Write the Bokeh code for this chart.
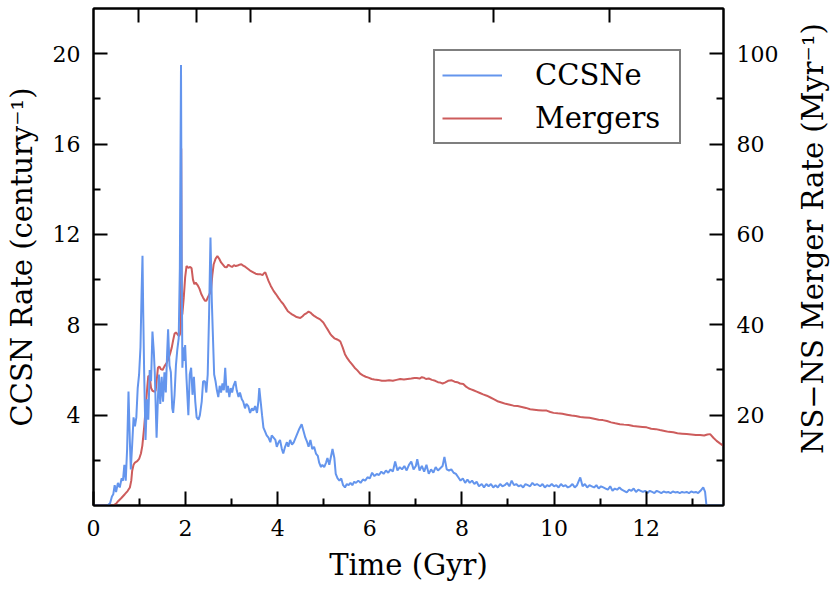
from bokeh.plotting import figure
from bokeh.layouts import row
from bokeh.models import Range1d, LinearAxis, FixedTicker, Legend, LegendItem
from bokeh.embed import file_html
from bokeh.resources import INLINE

# ---------------- data ----------------
ccsn_time = [0.00, 0.30, 0.36, 0.40, 0.43, 0.46, 0.49, 0.53, 0.57, 0.61, 0.64, 0.67, 0.70, 0.73, 0.76,
             0.79, 0.81, 0.84, 0.87, 0.90, 0.93, 0.96, 0.99, 1.02, 1.045, 1.064, 1.08, 1.10, 1.13, 1.16,
             1.19, 1.22, 1.25, 1.28, 1.31, 1.33, 1.37, 1.40, 1.42, 1.45, 1.48, 1.51, 1.54, 1.57, 1.60,
             1.62, 1.65, 1.68, 1.71, 1.73, 1.76, 1.79, 1.82, 1.85, 1.875, 1.90, 1.915, 1.93, 1.95, 1.97,
             1.99, 2.02, 2.06, 2.09, 2.12, 2.15, 2.18, 2.21, 2.24, 2.28, 2.31, 2.35, 2.38, 2.42, 2.45,
             2.48, 2.51, 2.54, 2.57, 2.59, 2.62, 2.65, 2.68, 2.71, 2.74, 2.77, 2.80, 2.83, 2.86, 2.89,
             2.92, 2.95, 2.98, 3.01, 3.04, 3.08, 3.11, 3.15, 3.18, 3.22, 3.25, 3.29, 3.32, 3.36, 3.40,
             3.44, 3.47, 3.51, 3.55, 3.58, 3.60, 3.63, 3.66, 3.69, 3.72, 3.76, 3.80, 3.84, 3.87, 3.91,
             3.95, 3.98, 4.02, 4.05, 4.09, 4.12, 4.16, 4.20, 4.23, 4.27, 4.31, 4.35, 4.39, 4.43, 4.47,
             4.52, 4.56, 4.60, 4.64, 4.67, 4.71, 4.75, 4.79, 4.83, 4.87, 4.90, 4.94, 4.97, 5.01, 5.05,
             5.08, 5.12, 5.15, 5.19, 5.23, 5.26, 5.30, 5.34, 5.38, 5.42, 5.46, 5.50, 5.54, 5.58, 5.62,
             5.66, 5.70, 5.75, 5.80, 5.85, 5.90, 5.95, 6.00, 6.05, 6.10, 6.15, 6.20, 6.25, 6.30, 6.35,
             6.40, 6.45, 6.50, 6.55, 6.60, 6.65, 6.70, 6.75, 6.80, 6.85, 6.90, 6.95, 7.00, 7.03, 7.08,
             7.13, 7.18, 7.23, 7.28, 7.33, 7.38, 7.43, 7.48, 7.53, 7.58, 7.62, 7.67, 7.72, 7.77, 7.82,
             7.87, 7.92, 7.97, 8.02, 8.07, 8.12, 8.17, 8.22, 8.27, 8.32, 8.37, 8.43, 8.48, 8.53, 8.58,
             8.63, 8.68, 8.73, 8.78, 8.83, 8.88, 8.93, 8.98, 9.03, 9.08, 9.13, 9.18, 9.23, 9.28, 9.33,
             9.38, 9.43, 9.48, 9.53, 9.58, 9.63, 9.70, 9.75, 9.80, 9.85, 9.90, 9.95, 10.00, 10.05, 10.10,
             10.15, 10.20, 10.25, 10.30, 10.35, 10.40, 10.45, 10.50, 10.57, 10.62, 10.67, 10.72, 10.77,
             10.82, 10.87, 10.92, 10.97, 11.02, 11.07, 11.12, 11.17, 11.22, 11.27, 11.32, 11.37, 11.42,
             11.47, 11.52, 11.58, 11.63, 11.68, 11.73, 11.78, 11.83, 11.88, 11.93, 11.98, 12.03, 12.08,
             12.13, 12.18, 12.23, 12.28, 12.33, 12.38, 12.43, 12.48, 12.53, 12.58, 12.63, 12.68, 12.73,
             12.78, 12.83, 12.88, 12.93, 12.98, 13.03, 13.08, 13.13, 13.18, 13.24, 13.28, 13.31, 13.70]
ccsn_rate = [0.0, 0.0, 0.1, 0.4, 0.5, 0.9, 0.6, 1.0, 0.8, 1.2, 1.1, 1.8, 1.1, 2.5, 5.05,
             2.8, 1.6, 2.7, 3.9, 3.5, 3.9, 5.2, 5.8, 7.0, 9.5, 11.05, 8.5, 5.9, 2.9, 4.7,
             3.8, 6.0, 5.5, 7.7, 6.8, 5.9, 3.0, 4.8, 5.8, 4.5, 5.7, 4.6, 5.9, 5.0, 6.8,
             7.8, 6.2, 5.9, 4.3, 4.1, 4.9, 6.2, 6.9, 7.4, 10.5, 19.5, 11.0, 6.1, 7.0, 6.4,
             7.1, 5.6, 4.0, 5.8, 6.1, 4.9, 5.7, 4.6, 3.9, 3.8, 4.0, 4.6, 5.5, 5.5, 5.0,
             5.8, 8.5, 11.86, 9.0, 7.7, 5.8, 5.5, 5.1, 4.8, 5.3, 5.0, 5.4, 5.1, 6.1, 5.0,
             5.3, 4.8, 5.2, 5.0, 5.3, 5.5, 5.1, 4.8, 5.0, 4.7, 4.6, 4.3, 4.5, 4.4, 4.1,
             4.3, 4.2, 4.4, 4.1, 4.6, 5.2, 4.6, 4.0, 3.45, 3.3, 3.1, 3.0, 2.8, 3.1, 3.0,
             2.9, 2.6, 2.8, 2.9, 2.5, 2.3, 2.6, 2.8, 2.6, 2.9, 2.7, 2.8, 3.0, 3.2, 3.4,
             3.6, 3.3, 3.0, 2.8, 2.6, 2.9, 2.5, 2.6, 2.3, 2.2, 1.9, 1.7, 1.8, 1.7, 1.9,
             2.1, 1.8, 2.1, 2.5, 2.1, 1.4, 1.2, 1.1, 1.2, 0.9, 0.8, 0.95, 0.9, 1.0, 0.9,
             1.05, 1.0, 1.1, 1.0, 1.15, 1.1, 1.25, 1.2, 1.45, 1.3, 1.4, 1.35, 1.5, 1.4, 1.55,
             1.45, 1.6, 1.5, 1.95, 1.55, 1.7, 1.6, 1.75, 1.55, 1.8, 1.95, 1.6, 1.75, 2.05, 1.55,
             1.75, 1.5, 1.8, 1.4, 1.6, 1.45, 1.7, 1.55, 1.65, 1.75, 2.15, 1.6, 1.55, 1.6, 1.45,
             1.4, 1.25, 1.1, 1.2, 1.0, 1.15, 1.0, 1.1, 0.95, 1.05, 0.85, 0.95, 0.8, 0.95, 0.85,
             0.95, 0.8, 0.9, 0.8, 0.95, 0.85, 0.9, 1.0, 0.85, 1.1, 0.9, 0.95, 0.85, 0.9, 0.8,
             0.95, 0.9, 0.85, 1.0, 0.9, 0.95, 0.85, 0.95, 0.8, 0.9, 0.85, 0.95, 0.85, 0.9, 0.8,
             0.95, 0.85, 0.9, 0.8, 0.85, 0.95, 0.8, 0.9, 1.24, 0.85, 0.95, 0.8, 0.9,
             0.85, 0.8, 0.9, 0.75, 0.85, 0.8, 0.75, 0.7, 0.85, 0.65, 0.75, 0.7, 0.8,
             0.7, 0.65, 0.58, 0.7, 0.65, 0.75, 0.6, 0.7, 0.65, 0.6, 0.65, 0.55, 0.65,
             0.6, 0.55, 0.65, 0.6, 0.55, 0.62, 0.58, 0.6, 0.55, 0.62, 0.58, 0.6, 0.55,
             0.6, 0.57, 0.6, 0.55, 0.62, 0.58, 0.6, 0.55, 0.65, 0.8, 0.6, 0.0, 0.0]

merger_time = [0.00, 0.43, 0.50, 0.54, 0.60, 0.68, 0.74, 0.79, 0.82, 0.84, 0.87, 0.90, 0.95, 0.99, 1.03,
               1.06, 1.10, 1.14, 1.17, 1.19, 1.22, 1.25, 1.28, 1.32, 1.35, 1.38, 1.40, 1.43, 1.46, 1.50,
               1.54, 1.59, 1.62, 1.66, 1.70, 1.73, 1.76, 1.79, 1.83, 1.86, 1.88, 1.895, 1.905, 1.915, 1.93,
               1.96, 1.99, 2.02, 2.06, 2.10, 2.13, 2.16, 2.19, 2.22, 2.26, 2.30, 2.34, 2.38, 2.42, 2.45,
               2.48, 2.52, 2.55, 2.58, 2.61, 2.65, 2.69, 2.73, 2.77, 2.81, 2.85, 2.89, 2.93, 2.97, 3.01,
               3.05, 3.09, 3.13, 3.17, 3.21, 3.25, 3.30, 3.35, 3.40, 3.47, 3.52, 3.57, 3.62, 3.67, 3.70,
               3.73, 3.76, 3.80, 3.85, 3.91, 3.96, 4.02, 4.07, 4.12, 4.17, 4.22, 4.27, 4.31, 4.36, 4.41,
               4.45, 4.49, 4.54, 4.58, 4.63, 4.67, 4.71, 4.75, 4.80, 4.85, 4.92, 4.99, 5.05, 5.10, 5.14,
               5.18, 5.23, 5.28, 5.32, 5.36, 5.41, 5.46, 5.51, 5.56, 5.61, 5.67, 5.73, 5.79, 5.85, 5.91,
               5.97, 6.04, 6.10, 6.18, 6.26, 6.34, 6.42, 6.50, 6.58, 6.66, 6.74, 6.82, 6.90, 6.97, 7.02,
               7.08, 7.13, 7.17, 7.22, 7.28, 7.35, 7.42, 7.48, 7.53, 7.58, 7.63, 7.70, 7.78, 7.84, 7.90,
               7.96, 8.03, 8.09, 8.15, 8.20, 8.25, 8.32, 8.39, 8.46, 8.54, 8.62, 8.70, 8.79, 8.86, 8.95,
               9.04, 9.12, 9.21, 9.30, 9.39, 9.48, 9.57, 9.66, 9.75, 9.84, 9.92, 9.99, 10.08, 10.18, 10.28,
               10.38, 10.47, 10.57, 10.67, 10.77, 10.87, 10.97, 11.06, 11.15, 11.24, 11.33, 11.43, 11.52,
               11.62, 11.72, 11.82, 11.92, 12.01, 12.11, 12.21, 12.30, 12.40, 12.49, 12.59, 12.68, 12.78,
               12.88, 12.98, 13.08, 13.17, 13.26, 13.33, 13.39, 13.46, 13.53, 13.61, 13.68]
merger_rate = [0.0, 0.0, 0.5, 1.0, 1.6, 2.5, 3.2, 4.0, 5.5, 7.7, 9.0, 9.5, 9.8, 10.3, 11.5,
               13.2, 17.3, 22.4, 26.5, 28.7, 28.5, 26.0, 25.4, 25.2, 25.4, 28.5, 30.5, 30.8, 30.2, 30.0,
               30.8, 31.6, 32.3, 33.5, 35.0, 36.6, 38.0, 38.3, 37.8, 37.5, 38.0, 40.0, 79.0, 42.0, 42.4,
               46.0, 50.5, 53.0, 52.6, 52.8, 52.5, 50.0, 49.0, 49.3, 48.8, 48.0, 46.8, 46.0, 45.3, 45.3,
               46.0, 46.8, 47.5, 51.0, 53.4, 54.6, 55.2, 54.6, 53.8, 53.3, 52.8, 52.7, 53.3, 53.0, 52.8,
               53.2, 53.0, 53.1, 53.3, 53.4, 53.1, 52.8, 52.4, 52.0, 51.6, 51.3, 51.2, 51.2, 51.0, 51.4,
               51.6, 50.8, 49.7, 48.6, 47.5, 46.8, 45.9, 45.2, 44.6, 43.8, 43.0, 42.6, 42.3, 42.0, 41.7,
               41.6, 41.5, 41.9, 42.3, 42.6, 42.9, 42.7, 42.3, 41.9, 41.6, 41.2, 40.5, 39.5, 38.7, 38.0,
               37.5, 37.0, 36.8, 36.6, 36.3, 35.0, 33.5, 32.6, 31.9, 31.3, 30.5, 29.9, 29.2, 28.8, 28.5,
               28.3, 28.0, 27.9, 27.8, 27.6, 27.6, 27.7, 27.6, 27.8, 28.0, 27.9, 28.0, 28.1, 28.2, 28.2,
               28.1, 28.4, 28.3, 28.0, 28.1, 27.8, 27.6, 27.3, 27.2, 27.0, 27.2, 27.6, 27.7, 27.4, 27.3,
               27.0, 26.9, 26.3, 25.9, 25.7, 25.5, 25.2, 24.9, 24.6, 24.3, 23.9, 23.5, 23.0, 22.8, 22.5,
               22.3, 22.1, 22.0, 21.8, 21.6, 21.3, 21.2, 21.1, 21.0, 21.0, 20.7, 20.5, 20.4, 20.3, 20.1,
               19.9, 19.8, 19.6, 19.5, 19.4, 19.2, 19.0, 18.9, 18.7, 18.4, 18.2, 18.0, 17.9,
               17.8, 17.6, 17.5, 17.4, 17.3, 17.0, 16.9, 16.7, 16.5, 16.3, 16.2, 16.0, 15.9,
               15.8, 15.7, 15.6, 15.6, 15.5, 15.7, 15.8, 15.0, 14.3, 13.7, 13.2]

x_major_ticks = [0, 2, 4, 6, 8, 10, 12]
x_minor_ticks = [1, 3, 5, 7, 9, 11, 13]
left_major_ticks = [4, 8, 12, 16, 20]
left_minor_ticks = [2, 6, 10, 14, 18]
right_major_ticks = [20, 40, 60, 80, 100]
right_minor_ticks = [10, 30, 50, 70, 90]
# cosmic times (Gyr) of redshifts z = 6, 3, 2, 1, 0.5, 0.2 (unlabelled top ticks)
redshift_tick_times = [0.97, 2.24, 3.40, 5.99, 8.68, 11.21]

BLUE = "#6495ED"
RED = "#CD5C5C"
FONT = "DejaVu Serif"

p = figure(width=784, height=589, x_range=Range1d(0, 13.68), y_range=Range1d(0, 22),
           output_backend="svg", toolbar_location=None,
           min_border_left=93, min_border_right=61, min_border_top=8, min_border_bottom=84)
p.extra_y_ranges = {"merger": Range1d(0, 110)}
p.xgrid.visible = False
p.ygrid.visible = False
p.outline_line_color = "black"
p.outline_line_width = 2
p.background_fill_color = "white"
p.border_fill_color = "white"


def style_axis(ax, major, minor, standoff):
    ax.ticker = FixedTicker(ticks=major, minor_ticks=minor)
    ax.axis_line_color = "black"
    ax.axis_line_width = 2
    ax.major_tick_line_color = "black"
    ax.major_tick_line_width = 2
    ax.minor_tick_line_color = "black"
    ax.minor_tick_line_width = 2
    ax.major_tick_in = 14
    ax.major_tick_out = 0
    ax.minor_tick_in = 7
    ax.minor_tick_out = 0
    ax.major_label_text_font = FONT
    ax.major_label_text_font_size = "22px"
    ax.major_label_text_color = "black"
    ax.major_label_standoff = standoff
    ax.axis_label_text_font = FONT
    ax.axis_label_text_font_size = "29px"
    ax.axis_label_text_font_style = "normal"
    ax.axis_label_text_color = "black"


xa = p.xaxis[0]
style_axis(xa, x_major_ticks, x_minor_ticks, 14)
xa.axis_label = "Time (Gyr)"
xa.axis_label_standoff = 9

ya = p.yaxis[0]
style_axis(ya, left_major_ticks, left_minor_ticks, 13)
ya.axis_label = "CCSN Rate (century\u207b\u00b9)"
ya.axis_label_standoff = 11

ra = LinearAxis(y_range_name="merger")
style_axis(ra, right_major_ticks, right_minor_ticks, 13)
p.add_layout(ra, "right")

ta = LinearAxis()
style_axis(ta, redshift_tick_times, [], 0)
ta.major_label_text_font_size = "0px"
ta.major_label_text_alpha = 0
p.add_layout(ta, "above")

red_line = p.line(merger_time, merger_rate, y_range_name="merger", line_color=RED, line_width=2)
blue_line = p.line(ccsn_time, ccsn_rate, line_color=BLUE, line_width=2)

legend = Legend(items=[LegendItem(label="CCSNe", renderers=[blue_line]),
                       LegendItem(label="Mergers", renderers=[red_line])],
                location=(340, 361))
legend.label_text_font = FONT
legend.label_text_font_size = "29px"
legend.label_text_color = "black"
legend.glyph_width = 60
legend.label_standoff = 33
legend.label_width = 137
legend.padding = 7
legend.spacing = 9
legend.margin = 0
legend.border_line_color = "black"
legend.border_line_width = 2
legend.background_fill_color = "white"
legend.background_fill_alpha = 1.0
p.add_layout(legend, "center")

# narrow strip at the right carrying the merger-rate axis title (reads bottom-to-top);
# same top/bottom borders as the main plot so the row keeps the main frame unchanged
p_title = figure(width=46, height=589, x_range=Range1d(0, 1), y_range=Range1d(0, 1),
                 output_backend="svg", toolbar_location=None, x_axis_location=None,
                 min_border_left=45, min_border_right=0, min_border_top=8, min_border_bottom=84)
p_title.xgrid.visible = False
p_title.ygrid.visible = False
p_title.outline_line_color = None
p_title.background_fill_color = "white"
p_title.border_fill_color = "white"
ty = p_title.yaxis[0]
ty.ticker = FixedTicker(ticks=[], minor_ticks=[])
ty.axis_line_color = None
ty.major_tick_in = 0
ty.major_tick_out = 0
ty.minor_tick_in = 0
ty.minor_tick_out = 0
ty.major_label_text_font_size = "0px"
ty.major_label_standoff = 0
# leading no-break spaces lift the centred title slightly, as in the reference
ty.axis_label = "\u00a0\u00a0\u00a0\u00a0NS\u2212NS Merger Rate (Myr\u207b\u00b9)"
ty.axis_label_standoff = 0
ty.axis_label_text_font = FONT
ty.axis_label_text_font_size = "29px"
ty.axis_label_text_font_style = "normal"
ty.axis_label_text_color = "black"

page = row(p, p_title, spacing=0)

open("out.html", "w").write(file_html(page, INLINE))
